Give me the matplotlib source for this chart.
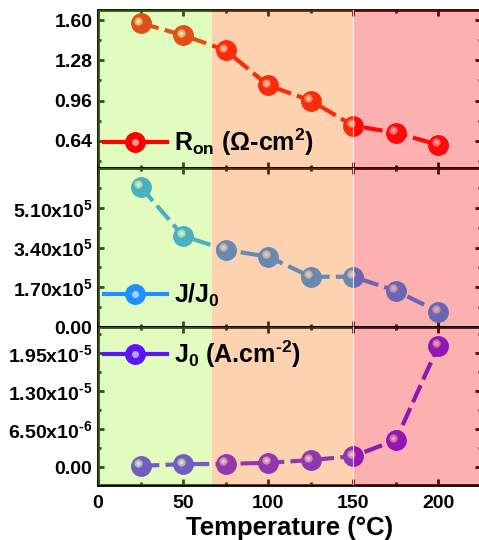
import matplotlib
matplotlib.use("Agg")

import matplotlib.pyplot as plt
import matplotlib.transforms as mtransforms
from matplotlib.legend_handler import HandlerTuple
from matplotlib.lines import Line2D
from matplotlib.ticker import MultipleLocator, FixedLocator, FixedFormatter

plt.rcParams["font.family"] = ["Liberation Sans", "DejaVu Sans"]
plt.rcParams["font.weight"] = "bold"
plt.rcParams["mathtext.fontset"] = "custom"
plt.rcParams["mathtext.rm"] = "Liberation Sans:bold"
plt.rcParams["mathtext.it"] = "Liberation Sans:bold"
plt.rcParams["mathtext.bf"] = "Liberation Sans:bold"
plt.rcParams["mathtext.sf"] = "Liberation Sans:bold"

# data
temperature = [25, 50, 75, 100, 125, 150, 175, 200]
r_on = [1.576, 1.48, 1.36, 1.08, 0.96, 0.76, 0.704, 0.608]
j_ratio = [6.0e5, 3.90e5, 3.30e5, 3.01e5, 2.15e5, 2.15e5, 1.55e5, 0.655e5]
j0 = [0.27e-6, 0.56e-6, 0.6e-6, 0.79e-6, 1.25e-6, 1.93e-6, 4.67e-6, 2.08e-5]

labels = [r"R$_{on}$ ($\Omega$-cm$^{2}$)", r"J/J$_{0}$", "J$_{0}$ (A.cm$^{\u20102}$)"]
colors = ["#ff0000", "#1e90ff", "#5a14ff"]

r_ticks = [0.64, 0.96, 1.28, 1.60]
r_ticklabels = ["0.64", "0.96", "1.28", "1.60"]
jr_ticks = [0, 1.7e5, 3.4e5, 5.1e5]
jr_ticklabels = ["0.00", r"1.70x10$^{5}$", r"3.40x10$^{5}$", r"5.10x10$^{5}$"]
j0_ticks = [0, 6.5e-6, 1.3e-5, 1.95e-5]
j0_ticklabels = ["0.00", "6.50x10$^{\u20106}$", "1.30x10$^{\u20105}$", "1.95x10$^{\u20105}$"]

# temperature regions (start, end, overlay colour, alpha)
regions = [(0, 67, "#a9f63e", 0.33), (67, 150, "#f97e1d", 0.35), (150, 225, "#f91d1d", 0.35)]

fig = plt.figure(figsize=(4.79, 5.4), dpi=100)
left = 98 / 479
width = (481 - 98) / 479
ax1 = fig.add_axes([left, 0.6889, width, 0.2926])
ax2 = fig.add_axes([left, 0.3944, width, 0.2944])
ax3 = fig.add_axes([left, 0.1019, width, 0.2926])

panels = [
    (ax1, r_on, (0.424, 1.68), r_ticks, r_ticklabels, 0.16, 0.165),
    (ax2, j_ratio, (0, 6.8e5), jr_ticks, jr_ticklabels, 0.85e5, 0.20),
    (ax3, j0, (-3.0e-6, 2.4e-5), j0_ticks, j0_ticklabels, 3.25e-6, 0.83),
]

for i, (ax, vals, ylim, ticks, ticklabels, minor, ly) in enumerate(panels):
    c = colors[i]
    ax.plot(temperature, vals, color=c, lw=3, dashes=(4.5, 1.5),
            marker="o", ms=14, mfc=c, mec=c, zorder=2)
    hl = mtransforms.offset_copy(ax.transData, fig=fig, x=-1.8, y=1.8, units="points")
    ax.plot(temperature, vals, ls="none", marker="o", ms=6, mfc="white", mec="none",
            alpha=0.55, transform=hl, zorder=2.1)
    ax.plot(temperature, vals, ls="none", marker="o", ms=3, mfc="white", mec="none",
            alpha=0.7, transform=hl, zorder=2.2)

    for x0, x1, rc, ra in regions:
        ax.axvspan(x0, x1, color=rc, alpha=ra, lw=0, zorder=3)
    ax.axvline(150, color="white", lw=0.8, alpha=0.8, zorder=3.1)

    ax.set_xlim(0, 225)
    ax.set_ylim(*ylim)
    ax.yaxis.set_major_locator(FixedLocator(ticks))
    ax.yaxis.set_major_formatter(FixedFormatter(ticklabels))
    ax.yaxis.set_minor_locator(MultipleLocator(minor))
    ax.xaxis.set_major_locator(MultipleLocator(50))
    ax.xaxis.set_minor_locator(MultipleLocator(25))
    ax.tick_params(which="both", direction="in", top=True, right=True, width=2,
                   labelsize=14)
    ax.tick_params(axis="y", pad=4)
    ax.tick_params(axis="x", pad=7)
    ax.tick_params(which="major", length=4)
    ax.tick_params(which="minor", length=2)
    for s in ax.spines.values():
        s.set_linewidth(2)
    if i < 2:
        ax.tick_params(labelbottom=False)

    h_main = Line2D([], [], color=c, lw=3, marker="o", ms=14, mfc=c, mec=c)
    h_hl = Line2D([], [], ls="none", marker="o", ms=5, mfc="white", mec="none", alpha=0.6)
    leg = ax.legend([(h_main, h_hl)], [labels[i]],
                    handler_map={tuple: HandlerTuple(ndivide=1, pad=0)},
                    loc="center left", bbox_to_anchor=(6 / 383, ly), frameon=False,
                    borderpad=0, borderaxespad=0, handlelength=2.5, handletextpad=0.3,
                    prop={"size": 18, "weight": "bold"})
    leg.set_zorder(5)

ax3.set_xlabel("Temperature (°C)", fontsize=18.5, fontweight="bold", labelpad=3)

fig.savefig("out.png", dpi=100)
